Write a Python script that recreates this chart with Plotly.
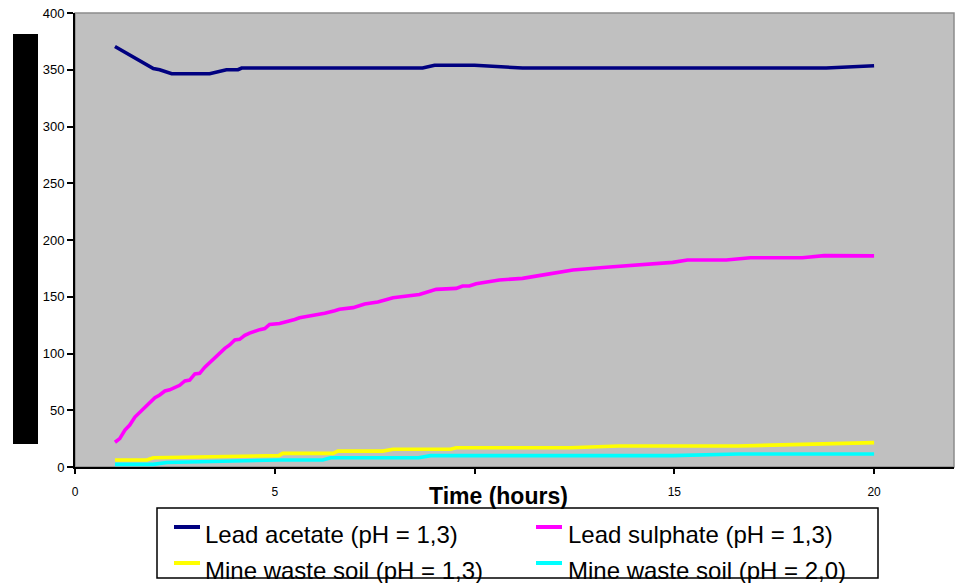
import plotly.graph_objects as go

# ---------------- data ----------------
series_names = [
    "Lead acetate (pH = 1,3)",
    "Lead sulphate (pH = 1,3)",
    "Mine waste soil (pH = 1,3)",
    "Mine waste soil (pH = 2,0)",
]
series_colors = ["#000080", "#FF00FF", "#FFFF00", "#00FFFF"]

acetate_t = [1.0, 1.5, 1.96, 2.12, 2.42, 3.37, 3.54, 3.79, 4.08, 4.17, 8.7, 9.0, 10.0, 11.2, 18.8, 20.0]
acetate_v = [370.5, 360.5, 351, 350, 346.5, 346.5, 348, 350, 350, 351.5, 351.5, 354, 354, 351.5, 351.5, 353.5]

sulphate_t = [1.0, 1.12, 1.25, 1.37, 1.5, 1.75, 2.0, 2.12, 2.25, 2.37, 2.5, 2.62, 2.75, 2.87,
              3.0, 3.12, 3.25, 3.37, 3.5, 3.62, 3.75, 3.87, 4.0, 4.12, 4.25, 4.37, 4.5, 4.62,
              4.75, 4.87, 5.12, 5.25, 5.37, 5.5, 5.62, 5.87, 6.0, 6.25, 6.5, 6.62, 6.96, 7.25,
              7.58, 7.96, 8.62, 9.04, 9.54, 9.7, 9.87, 10.04, 10.62, 11.2, 11.8, 12.46, 13.3,
              14.1, 14.96, 15.33, 16.3, 16.9, 18.2, 18.75, 20.0]
sulphate_v = [21.8, 25, 32.5, 37, 44, 53, 61, 63.5, 67, 68, 70, 72, 75.8, 76.6,
              82, 82.5, 88, 92, 95.7, 100, 104.5, 107.5, 112, 112.5, 116, 118, 120, 121,
              122, 125.6, 126.5, 127.7, 128, 130, 131.5, 133, 133.5, 135.4, 137.7, 139, 140.4, 143.6,
              145.4, 149.2, 152, 156.5, 157.4, 159.5, 159.5, 161.5, 164.7, 166.2, 169.7, 173.5, 176,
              178, 180.3, 182.4, 182.4, 184.4, 184.4, 186.2, 186]

mine13_t = [1.0, 1.8, 1.96, 5.1, 5.2, 6.46, 6.58, 7.7, 7.96, 9.4, 9.54, 12.4, 13.6, 16.6, 20.0]
mine13_v = [6.2, 6.2, 8.2, 10, 12, 12, 14, 14, 15.6, 15.6, 17, 17, 18.5, 18.5, 21.5]

mine20_t = [1.0, 1.96, 2.3, 5.1, 6.2, 6.4, 8.6, 8.9, 14.96, 16.6, 20.0]
mine20_v = [2.3, 2.3, 4, 6.2, 6.2, 8.2, 8.2, 10, 10, 11.5, 11.5]

x_tickvals = [0, 5, 10, 15, 20]
x_ticktext = ["0", "5", "", "15", "20"]
y_tickvals = [0, 50, 100, 150, 200, 250, 300, 350, 400]
x_title = "Time (hours)"

# ---------------- figure ----------------
W, H = 956, 583
L, R, T, B = 75, 954, 13, 467


def px(xp):
    return (xp - L) / (R - L)


def py(yp):
    return (B - yp) / (B - T)


FONT = "Arial, Liberation Sans, sans-serif"

fig = go.Figure()
all_t = [acetate_t, sulphate_t, mine13_t, mine20_t]
all_v = [acetate_v, sulphate_v, mine13_v, mine20_v]
for name, col, t, v in zip(series_names, series_colors, all_t, all_v):
    fig.add_trace(go.Scatter(x=t, y=v, mode="lines", name=name,
                             line=dict(color=col, width=3.6), showlegend=False))

shapes = [
    # plot border (top/right gray)
    dict(type="rect", xref="paper", yref="paper", x0=0, x1=1, y0=0, y1=1,
         line=dict(color="#8C8C8C", width=1.5), layer="below"),
    # black block on left (y-axis title area)
    dict(type="rect", xref="paper", yref="paper", x0=px(13), x1=px(38), y0=py(444), y1=py(34),
         fillcolor="black", line=dict(width=0)),
    # legend box
    dict(type="rect", xref="paper", yref="paper", x0=px(157), x1=px(878), y0=py(578), y1=py(508),
         fillcolor="white", line=dict(color="black", width=1.5), layer="below"),
]

annotations = [
    dict(text="<b>%s</b>" % x_title, xref="paper", yref="paper", x=px(498.5), y=py(496.5),
         xanchor="center", yanchor="middle", showarrow=False,
         font=dict(family=FONT, size=23, color="black")),
]

sw_x = [174, 536]
tx_x = [203, 566]
sw_y = [527, 563]
tx_y = [534.5, 570.5]
for i, (name, col) in enumerate(zip(series_names, series_colors)):
    c, r = i % 2, i // 2
    shapes.append(dict(type="line", xref="paper", yref="paper",
                       x0=px(sw_x[c]), x1=px(sw_x[c] + 26), y0=py(sw_y[r]), y1=py(sw_y[r]),
                       line=dict(color=col, width=4)))
    annotations.append(dict(text=name, xref="paper", yref="paper", x=px(tx_x[c]), y=py(tx_y[r]),
                            xanchor="left", yanchor="middle", showarrow=False,
                            font=dict(family=FONT, size=24, color="black")))

fig.update_layout(
    width=W, height=H,
    margin=dict(l=L, r=W - R, t=T, b=H - B, pad=0),
    paper_bgcolor="white", plot_bgcolor="#C0C0C0",
    font=dict(family=FONT, color="black"),
    shapes=shapes, annotations=annotations,
    showlegend=False,
)
fig.update_xaxes(range=[0, 22], tickvals=x_tickvals, ticktext=x_ticktext,
                 showgrid=False, zeroline=False, showline=True, linecolor="black", linewidth=2,
                 ticks="outside", ticklen=5, tickwidth=1.5, tickcolor="black",
                 ticklabelstandoff=8,
                 tickfont=dict(family=FONT, size=12, color="black"))
fig.update_yaxes(range=[0, 400], tickvals=y_tickvals,
                 showgrid=False, zeroline=False, showline=True, linecolor="black", linewidth=2,
                 ticks="outside", ticklen=6, tickwidth=1.5, tickcolor="black",
                 tickfont=dict(family=FONT, size=13, color="black"))

fig.write_html("out.html")
